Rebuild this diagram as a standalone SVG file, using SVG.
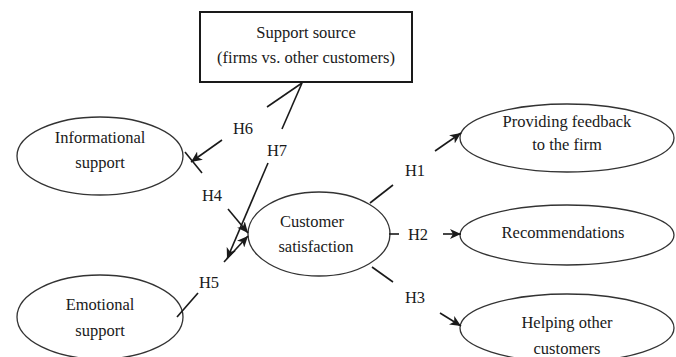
<svg xmlns="http://www.w3.org/2000/svg" width="676" height="357" viewBox="0 0 676 357" font-family="Liberation Serif, DejaVu Serif, serif">
<style>
text{font-family:'Liberation Serif','DejaVu Serif',serif;font-size:16.5px;fill:#1a1a1a;text-anchor:middle}
.n{fill:#fff;stroke:#333;stroke-width:1.3}
.b{fill:#fff;stroke:#1a1a1a;stroke-width:2}
.c{stroke:#1a1a1a;stroke-width:1.6;fill:none}
.a{marker-end:url(#ah)}
</style>
<defs>
<marker id="ah" markerUnits="userSpaceOnUse" markerWidth="12" markerHeight="10" refX="11" refY="5" orient="auto">
<path d="M0,0 L11,5 L0,10 L3,5 Z" fill="#1a1a1a"/>
</marker>
</defs>
<rect width="676" height="357" fill="#fff"/>
<g id="source"><rect class="b" x="200" y="12" width="212" height="70"/><text x="306" y="38">Support source</text><text x="306" y="63">(firms vs. other customers)</text></g>
<g id="informational"><ellipse class="n" cx="100" cy="156" rx="83" ry="39"/><text x="100" y="143">Informational</text><text x="100" y="168">support</text></g>
<g id="emotional"><ellipse class="n" cx="100" cy="317" rx="83" ry="42"/><text x="100" y="310">Emotional</text><text x="100" y="336">support</text></g>
<g id="satisfaction"><ellipse class="n" cx="319" cy="234" rx="71" ry="42"/><text x="312" y="227">Customer</text><text x="316" y="252">satisfaction</text></g>
<g id="feedback"><ellipse class="n" cx="567" cy="138" rx="107" ry="34"/><text x="567" y="127">Providing feedback</text><text x="567" y="150">to the firm</text></g>
<g id="recommendations"><ellipse class="n" cx="567" cy="235" rx="107" ry="30"/><text x="563" y="238">Recommendations</text></g>
<g id="helping"><ellipse class="n" cx="567" cy="328" rx="107" ry="34"/><text x="567" y="328">Helping other</text><text x="567" y="354">customers</text></g>
<g id="connectors">
<line class="c" x1="267" y1="107" x2="302" y2="83"/>
<line class="c" x1="282" y1="129" x2="302" y2="83"/>
<line class="c a" x1="222" y1="140" x2="191" y2="162"/>
<line class="c a" x1="268" y1="163" x2="227" y2="259"/>
<line class="c" x1="185" y1="152" x2="202" y2="173"/>
<line class="c a" x1="228" y1="209" x2="248" y2="233"/>
<line class="c" x1="177" y1="317" x2="198" y2="293"/>
<line class="c a" x1="224" y1="262" x2="248" y2="236"/>
<line class="c" x1="370" y1="203" x2="393" y2="185"/>
<line class="c a" x1="435" y1="151" x2="461" y2="133"/>
<line class="c" x1="389" y1="234" x2="399" y2="234"/>
<line class="c a" x1="443" y1="234" x2="461" y2="234"/>
<line class="c" x1="372" y1="267" x2="393" y2="282"/>
<line class="c a" x1="440" y1="313" x2="461" y2="326"/>
<text x="243" y="134">H6</text>
<text x="277" y="156">H7</text>
<text x="212" y="201">H4</text>
<text x="209" y="288">H5</text>
<text x="415" y="176">H1</text>
<text x="418" y="240">H2</text>
<text x="415" y="303">H3</text>
</g>
</svg>
